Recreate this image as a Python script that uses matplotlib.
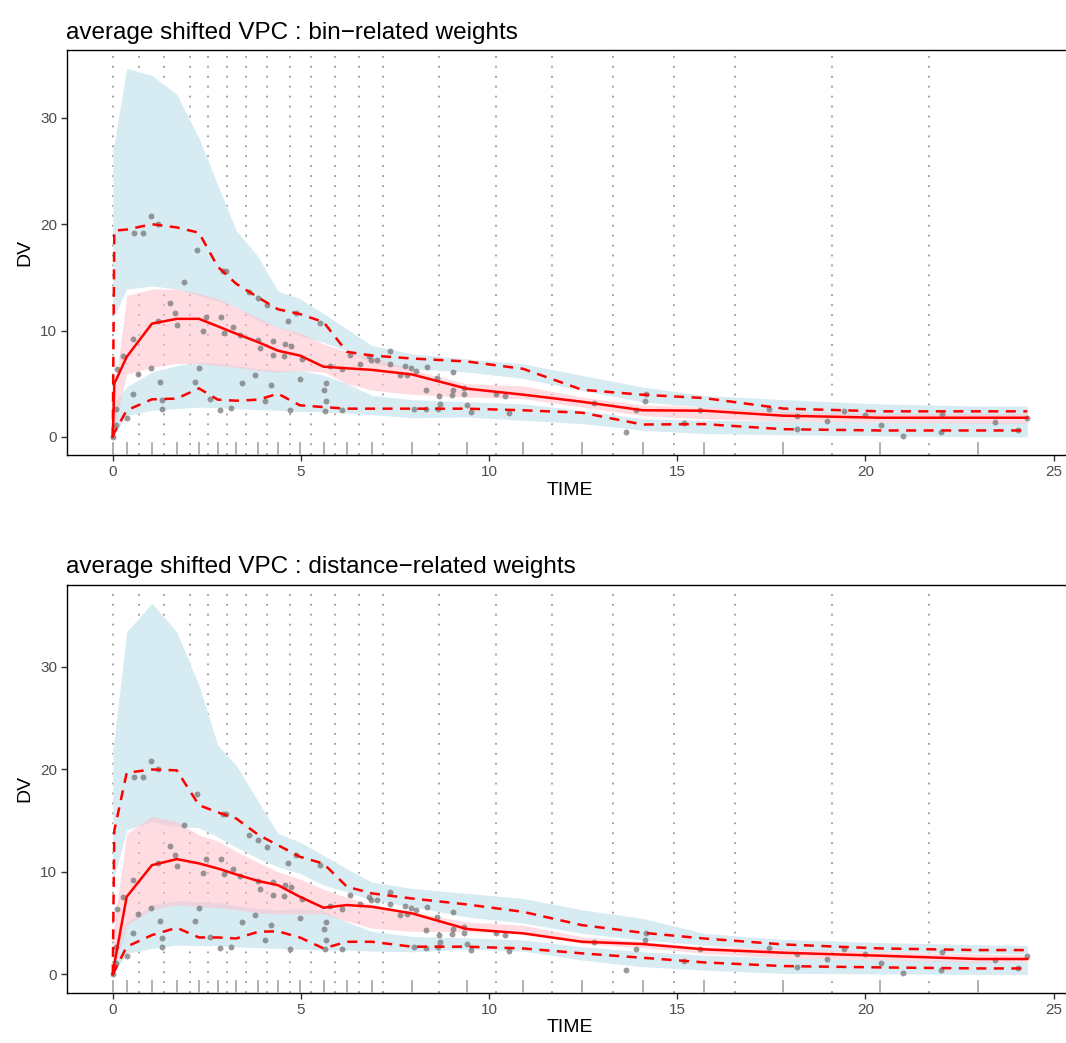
import numpy as np
import matplotlib
matplotlib.use("Agg")
import matplotlib.pyplot as plt

plt.rcParams['font.family'] = ['Liberation Sans', 'DejaVu Sans']

# bin midpoints (rug) and bin boundaries (dotted lines)
rug_x = [0, 0.37, 1.04, 1.70, 2.29, 2.79, 3.28, 3.87, 4.39, 4.97, 5.60, 6.22, 6.88,
         7.95, 9.41, 10.90, 12.47, 14.08, 15.71, 17.82, 20.39, 22.98]
bin_edges = [0, 0.71, 1.37, 2.04, 2.54, 3.04, 3.54, 4.11, 4.70, 5.27, 5.91, 6.54, 7.19,
             8.68, 10.17, 11.66, 13.28, 14.90, 16.52, 19.10, 21.70]

# x grid used for the percentile curves
grid_x = [0, 0.04, 0.37, 1.04, 1.70, 2.29, 2.79, 3.28, 3.87, 4.39, 4.97, 5.60, 6.22, 6.88,
          7.95, 9.41, 10.90, 12.47, 14.08, 15.71, 17.82, 20.39, 22.98, 24.3]

# observed data
obs_time = [0, 0.09, 0.09, 0.12, 0.27, 0.37, 0.53, 0.53, 0.68, 0.57, 0.80, 1.01, 1.21, 1.01,
            1.26, 1.31, 1.31, 1.21, 1.52, 1.66, 1.70, 1.88, 2.19, 2.30, 2.23, 2.41, 2.47,
            2.59, 2.84, 2.87, 2.92, 3.00, 2.95, 3.19, 3.14, 3.43, 3.39, 3.63, 3.78, 3.90,
            3.86, 3.85, 4.05, 4.10, 4.20, 4.25, 4.25, 4.54, 4.58, 4.74, 4.65, 4.72, 4.87,
            4.98, 5.04, 5.51, 5.60, 5.66, 5.67, 5.63, 5.76, 6.09, 6.09, 6.31, 6.58, 6.80,
            6.86, 7.02, 7.36, 7.36, 7.62, 7.77, 7.82, 7.93, 8.06, 8.35, 8.01, 8.31, 8.33,
            8.62, 8.66, 8.70, 8.64, 9.04, 9.04, 9.02, 9.33, 9.34, 9.40, 9.52, 10.19, 10.41,
            10.52, 12.78, 13.64, 13.91, 14.14, 14.18, 15.19, 15.60, 17.44, 18.17, 18.19,
            18.97, 19.43, 19.98, 20.41, 21.01, 22.02, 22.00, 23.44, 24.04, 24.29]
obs_dv = [0, 1.1, 2.66, 6.4, 7.56, 1.78, 4.06, 9.2, 5.87, 19.2, 19.2, 20.8, 20.0, 6.5,
          5.2, 2.66, 3.5, 10.9, 12.55, 11.65, 10.55, 14.6, 5.2, 6.5, 17.6, 9.93, 11.24,
          3.6, 2.56, 11.24, 15.6, 15.6, 9.74, 10.3, 2.7, 5.06, 9.6, 13.6, 5.78, 8.34,
          9.12, 13.06, 3.4, 12.4, 4.84, 7.74, 9.05, 7.65, 8.75, 8.5, 10.86, 2.5, 11.65,
          5.47, 7.34, 10.68, 4.44, 5.1, 3.4, 2.44, 6.62, 6.4, 2.5, 7.74, 6.87, 7.56,
          7.25, 7.25, 8.03, 6.87, 5.78, 6.71, 5.84, 6.46, 6.24, 6.56, 2.66, 4.37, 2.6,
          5.56, 3.84, 3.13, 2.66, 6.06, 4.43, 3.9, 4.6, 4.0, 2.97, 2.34, 4.0, 3.81,
          2.25, 3.18, 0.47, 2.5, 3.34, 4.0, 1.31, 2.5, 2.59, 0.72, 1.97, 1.47, 2.44,
          2.03, 1.1, 0.09, 2.19, 0.44, 1.38, 0.6, 1.78]

# panel 1 : bin-related weights
bin_med = [0, 5.0, 7.52, 10.65, 11.1, 11.1, 10.4, 9.7, 8.9, 8.1, 7.65, 6.6, 6.45, 6.3,
           5.87, 4.53, 3.97, 3.3, 2.5, 2.46, 1.99, 1.8, 1.8, 1.8]
bin_hi = [0, 19.4, 19.5, 20.0, 19.7, 19.2, 16.0, 14.4, 13.1, 12.0, 11.55, 10.8, 8.0, 7.65,
          7.37, 7.09, 6.4, 4.43, 3.96, 3.65, 2.66, 2.4, 2.4, 2.4]
bin_lo = [0, 0.4, 2.5, 3.53, 3.6, 4.56, 3.5, 3.4, 3.5, 4.06, 2.97, 2.8, 2.65, 2.65,
          2.65, 2.65, 2.5, 2.27, 1.16, 1.2, 0.72, 0.6, 0.6, 0.6]
bin_hi_ci_up = [27.2, 27.6, 34.65, 34.0, 32.2, 28.1, 23.7, 19.4, 16.9, 13.7, 13.0, 11.6,
                10.15, 8.6, 7.8, 7.34, 6.87, 5.78, 4.68, 3.9, 3.5, 3.1, 2.9, 2.9]
bin_hi_ci_dn = [11.2, 11.4, 13.9, 14.2, 13.9, 13.3, 12.8, 12.2, 10.9, 10.3, 9.5, 8.9, 8.1,
                6.9, 6.4, 6.1, 5.5, 4.37, 3.28, 2.8, 2.2, 2.0, 2.0, 2.0]
bin_med_ci_up = [3.4, 4.2, 13.3, 13.9, 13.9, 13.5, 13.0, 12.2, 11.2, 10.3, 9.8, 8.75, 8.0,
                 7.5, 6.3, 5.0, 4.8, 3.75, 3.0, 2.8, 2.4, 2.2, 2.2, 2.2]
bin_med_ci_dn = [0.5, 0.9, 5.9, 6.55, 6.9, 6.9, 6.7, 6.55, 6.25, 6.1, 6.25, 6.1, 5.0, 4.4,
                 4.0, 3.75, 3.6, 2.8, 2.0, 1.7, 1.5, 1.4, 1.3, 1.3]
bin_lo_ci_up = [3.1, 3.2, 4.7, 6.1, 6.7, 7.0, 6.9, 6.7, 6.4, 6.25, 6.25, 5.8, 5.0, 3.9,
                3.5, 3.3, 3.1, 2.5, 1.7, 1.55, 1.5, 1.4, 1.4, 1.4]
bin_lo_ci_dn = [0, 0.2, 2.0, 2.5, 2.65, 2.8, 2.75, 2.65, 2.55, 2.5, 2.4, 2.35, 2.25, 2.1,
                1.8, 1.87, 1.56, 1.25, 0.63, 0.31, 0.2, 0.1, 0.0, 0.0]

# panel 2 : distance-related weights
dist_med = [0, 1.0, 7.57, 10.65, 11.24, 10.82, 10.33, 9.75, 9.1, 8.7, 7.57, 6.5, 6.76, 6.6,
            5.95, 4.42, 4.0, 3.18, 2.96, 2.44, 2.11, 1.82, 1.5, 1.5]
dist_hi = [0, 14.0, 19.66, 19.98, 19.9, 16.5, 15.8, 15.2, 13.6, 12.6, 11.47, 10.8, 8.55, 7.9,
           7.4, 6.82, 6.1, 4.8, 4.06, 3.5, 2.92, 2.53, 2.37, 2.37]
dist_lo = [0, 0.3, 2.7, 3.83, 4.55, 3.6, 3.6, 3.5, 4.16, 4.2, 3.6, 2.53, 3.18, 3.18,
           2.7, 2.7, 2.53, 2.05, 1.62, 1.17, 0.81, 0.68, 0.58, 0.58]
dist_hi_ci_up = [22.0, 23.0, 33.4, 36.2, 33.4, 28.2, 22.35, 20.4, 16.8, 13.74, 12.9, 11.6,
                 10.3, 9.0, 8.38, 7.9, 7.4, 6.3, 5.46, 4.0, 3.4, 3.1, 2.9, 2.8]
dist_hi_ci_dn = [9.0, 9.5, 14.1, 14.9, 14.4, 14.3, 13.4, 12.4, 11.3, 10.5, 9.85, 8.7, 8.06,
                 7.25, 6.6, 5.6, 5.0, 4.0, 3.35, 2.86, 2.4, 2.2, 2.1, 2.0]
dist_med_ci_up = [4.0, 5.0, 13.74, 15.4, 14.9, 13.6, 13.0, 12.0, 10.9, 10.0, 9.3, 8.3, 7.5,
                  6.8, 6.1, 5.1, 4.8, 3.67, 3.18, 2.7, 2.5, 2.2, 2.0, 1.9]
dist_med_ci_dn = [0.3, 0.6, 4.8, 6.3, 6.8, 6.6, 6.5, 6.3, 6.0, 5.9, 5.9, 5.9, 5.2, 4.5,
                  4.2, 4.16, 4.0, 3.0, 2.6, 2.05, 1.6, 1.4, 1.2, 1.2]
dist_lo_ci_up = [2.5, 2.7, 5.1, 6.8, 7.2, 7.1, 7.0, 6.7, 6.4, 6.3, 6.4, 6.2, 5.1, 4.2,
                 3.7, 3.57, 3.35, 2.7, 2.2, 1.88, 1.6, 1.4, 1.3, 1.2]
dist_lo_ci_dn = [0, 0.2, 2.05, 2.53, 2.86, 2.8, 2.8, 2.7, 2.6, 2.53, 2.47, 2.37, 2.37, 2.28,
                 2.2, 2.47, 2.27, 1.4, 0.75, 0.42, 0.1, 0.05, 0.0, 0.0]

panels = [
    ("average shifted VPC : bin\u2212related weights",
     bin_med, bin_hi, bin_lo, bin_hi_ci_up, bin_hi_ci_dn,
     bin_med_ci_up, bin_med_ci_dn, bin_lo_ci_up, bin_lo_ci_dn),
    ("average shifted VPC : distance\u2212related weights",
     dist_med, dist_hi, dist_lo, dist_hi_ci_up, dist_hi_ci_dn,
     dist_med_ci_up, dist_med_ci_dn, dist_lo_ci_up, dist_lo_ci_dn),
]

blue = (0.839, 0.922, 0.949)
pink = (1.0, 0.753, 0.796, 0.55)
red = "#FF0000"

fig = plt.figure(figsize=(10.66, 10.43), dpi=100)
rects = [[0.0629, 0.5635, 0.9437, 0.3885], [0.0629, 0.048, 0.9437, 0.3915]]

for rect, p in zip(rects, panels):
    title, med, hi, lo, hcu, hcd, mcu, mcd, lcu, lcd = p
    ax = fig.add_axes(rect)

    for xv in bin_edges:
        ax.axvline(xv, color="#999999", lw=1.3, ls=(0, (1, 4.5)), zorder=1)

    ax.fill_between(grid_x, hcd, hcu, color=blue, lw=0, zorder=2)
    ax.fill_between(grid_x, lcd, lcu, color=blue, lw=0, zorder=2)
    ax.fill_between(grid_x, mcd, mcu, color=pink, lw=0, zorder=3)

    ax.scatter(obs_time, obs_dv, s=18, color="#777777", alpha=0.75, lw=0, zorder=4)

    ax.plot(grid_x, med, color=red, lw=1.8, zorder=5)
    ax.plot(grid_x, hi, color=red, lw=1.8, ls=(0, (4, 3)), zorder=5)
    ax.plot(grid_x, lo, color=red, lw=1.8, ls=(0, (4, 3)), zorder=5)

    for xv in rug_x:
        ax.axvline(xv, ymin=0, ymax=0.03, color="#aaaaaa", lw=1.3, zorder=3)

    top = max(hcu)
    pad = top * 0.05
    ax.set_ylim(-pad, top + pad)
    ax.set_xlim(-1.215, 25.515)
    ax.set_xticks([0, 5, 10, 15, 20, 25])
    ax.set_yticks([0, 10, 20, 30])
    ax.tick_params(axis="both", labelsize=11, labelcolor="#4d4d4d", color="#333333",
                   length=4, width=1.0, pad=3)
    for s in ax.spines.values():
        s.set_color("black")
        s.set_linewidth(1.0)
    ax.set_xlabel("TIME", fontsize=14, labelpad=2)
    ax.set_ylabel("DV", fontsize=14, labelpad=5)
    ax.set_title(title, fontsize=17.5, loc="left", x=-0.001, pad=8)

fig.savefig("out.png", dpi=100)
